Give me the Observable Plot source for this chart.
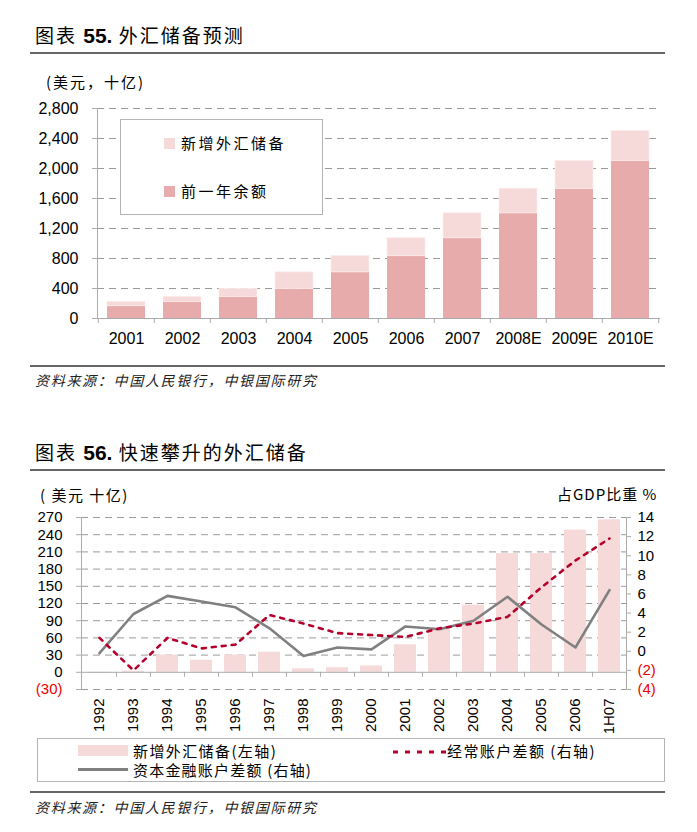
<!DOCTYPE html>
<html><head><meta charset="utf-8">
<script src="https://cdn.jsdelivr.net/npm/d3@7"></script>
<script src="https://cdn.jsdelivr.net/npm/@observablehq/plot@0.6"></script>
<style>
body{margin:0;width:697px;height:832px;position:relative;background:#fff;overflow:hidden;color:#000;
 font-family:"Liberation Sans Narrow","Liberation Sans","Noto Sans CJK SC",sans-serif}
.abs{position:absolute;white-space:nowrap}
.cjk{font-family:"Noto Sans CJK SC",sans-serif}
.title{font-family:"Noto Sans CJK SC",sans-serif;font-size:19px;line-height:20px;letter-spacing:2px}
.title b{font-family:"Liberation Sans Narrow","Liberation Sans",sans-serif;font-weight:bold;font-size:21px;letter-spacing:0}
.rule{position:absolute;left:30px;width:635px;height:2px;background:#666}
.src{font-family:"Noto Sans CJK SC",sans-serif;font-style:italic;font-size:14px;line-height:14px;letter-spacing:1.7px;color:#222}
.svgbox{position:absolute;left:0}
.lg1{position:absolute;left:120px;top:119px;width:201px;height:94px;background:#fff;border:1px solid #b4b4b4}
.lgtxt{font-family:"Noto Sans CJK SC",sans-serif;font-size:15px;line-height:16px}
</style></head>
<body>
<script>
// ---------- Chart 55 data ----------
const years1 = ["2001","2002","2003","2004","2005","2006","2007","2008E","2009E","2010E"];
const prevBalance = [164, 221, 287, 394, 615, 831, 1070, 1402, 1729, 2101];
const totalReserve = [221, 287, 394, 615, 831, 1070, 1402, 1729, 2101, 2499];
const yTicks1 = [0, 400, 800, 1200, 1600, 2000, 2400, 2800];

// ---------- Chart 56 data ----------
const years2 = ["1992","1993","1994","1995","1996","1997","1998","1999","2000","2001","2002","2003","2004","2005","2006","1H07"];
const newReserves = [-2, 2, 30, 21, 30, 35, 6, 8, 11, 48, 77, 117, 207, 207, 248, 266];
const currentAccount = [1.4, -2.0, 1.4, 0.3, 0.7, 3.8, 2.9, 1.9, 1.7, 1.5, 2.4, 2.9, 3.6, 6.7, 9.5, 11.8];
const capitalAccount = [-0.2, 3.9, 5.8, 5.2, 4.6, 2.4, -0.5, 0.4, 0.2, 2.6, 2.3, 3.2, 5.7, 2.8, 0.4, 6.4];
const leftTicks = [-30, 0, 30, 60, 90, 120, 150, 180, 210, 240, 270];
const rightTicks = [-4, -2, 0, 2, 4, 6, 8, 10, 12, 14];
const leftDomain = [-30, 270];
const rightDomain = [-4, 14];

// ---------- page text ----------
const W = 697;
const NARROW = "Liberation Sans Narrow, Liberation Sans, sans-serif";
const GRAY = "#ababab";

function addDiv(html, cls, style) {
  const d = document.createElement("div");
  d.className = "abs " + (cls || "");
  d.style.cssText = style;
  d.innerHTML = html;
  document.body.appendChild(d);
  return d;
}

addDiv('图表 <b>55.</b> 外汇储备预测', "title", "left:35px;top:25px");
addDiv('', "rule", "top:52px");
addDiv('(美元，十亿)', "cjk", "left:46px;top:74px;font-size:15px;line-height:16px;letter-spacing:2px");

// ---------- Chart 55 ----------
const m1 = {top: 18, right: 37, bottom: 32, left: 97};
const step1 = (W - m1.left - m1.right) / years1.length;
const data1 = years1.map((y, i) => ({year: y, prev: prevBalance[i], total: totalReserve[i]}));
const px1 = 2800 / (260 - m1.top - m1.bottom); // data units per pixel

const chart1 = Plot.plot({
  width: W, height: 260,
  marginTop: m1.top, marginRight: m1.right, marginBottom: m1.bottom, marginLeft: m1.left,
  style: {fontFamily: NARROW, fontSize: "16px", color: "#000", background: "transparent"},
  x: {type: "band", domain: years1, paddingInner: 0.32, paddingOuter: 0.16, axis: null, label: null},
  y: {domain: [0, 2800], axis: null, label: null},
  marks: [
    Plot.gridY(yTicks1.filter(t => t > 0), {stroke: "#9a9a9a", strokeOpacity: 1, strokeDasharray: "7,5"}),
    Plot.barY(data1, {x: "year", y1: 0, y2: "prev", fill: "#e8abab"}),
    Plot.barY(data1, {x: "year", y1: "prev", y2: "total", fill: "#f6dada", stroke: "#fbeaea", strokeWidth: 0.8}),
    Plot.ruleY([0], {stroke: GRAY}),
    Plot.frame({anchor: "left", stroke: GRAY}),
    Plot.axisY(yTicks1, {anchor: "left", label: null, tickSize: 5, tickPadding: 14, stroke: GRAY, tickFormat: d3.format(","), fontSize: 16}),
    Plot.axisX(years1, {anchor: "bottom", label: null, tickSize: 0, tickPadding: 14, fontSize: 16}),
    Plot.ruleX(years1, {x: d => d, y1: 0, y2: -5 * px1, dx: -step1 / 2, stroke: GRAY}),
    Plot.ruleX(years1.slice(-1), {x: d => d, y1: 0, y2: -5 * px1, dx: step1 / 2, stroke: GRAY})
  ]
});
const box1 = document.createElement("div");
box1.className = "svgbox"; box1.style.top = "90px";
box1.appendChild(chart1);
document.body.appendChild(box1);

// legend 55
addDiv('', "lg1", "");
addDiv('', "", "left:164px;top:138px;width:11px;height:11px;background:#f6dada");
addDiv('新增外汇储备', "lgtxt", "left:181px;top:135px;letter-spacing:2.5px");
addDiv('', "", "left:164px;top:186px;width:11px;height:11px;background:#e8abab");
addDiv('前一年余额', "lgtxt", "left:181px;top:183px;letter-spacing:2.5px");

addDiv('', "rule", "top:365px");
addDiv('资料来源：中国人民银行，中银国际研究', "src", "left:35px;top:373px");

// ---------- Chart 56 ----------
addDiv('图表 <b>56.</b> 快速攀升的外汇储备', "title", "left:35px;top:442px");
addDiv('', "rule", "top:469px");
addDiv('( 美元 十亿)', "cjk", "left:40px;top:487px;font-size:15px;line-height:16px;letter-spacing:1.5px");
addDiv('占GDP比重 %', "cjk", "left:557px;top:486px;font-size:15px;line-height:16px;letter-spacing:1px");

const m2 = {top: 17, right: 71, bottom: 46, left: 81};
const H2 = 235;
const step2 = (W - m2.left - m2.right) / years2.length;
const px2 = (leftDomain[1] - leftDomain[0]) / (H2 - m2.top - m2.bottom);
const toLeft = v => leftDomain[0] + (v - rightDomain[0]) * (leftDomain[1] - leftDomain[0]) / (rightDomain[1] - rightDomain[0]);
const fromLeft = y => rightDomain[0] + (y - leftDomain[0]) * (rightDomain[1] - rightDomain[0]) / (leftDomain[1] - leftDomain[0]);
const paren = v => v < 0 ? `(${-v})` : `${v}`;
const data2 = years2.map((y, i) => ({year: y, res: newReserves[i], ca: currentAccount[i], cap: capitalAccount[i]}));

const chart2 = Plot.plot({
  width: W, height: H2,
  marginTop: m2.top, marginRight: m2.right, marginBottom: m2.bottom, marginLeft: m2.left,
  style: {fontFamily: NARROW, fontSize: "15px", color: "#000", background: "transparent"},
  x: {type: "band", domain: years2, paddingInner: 0.36, paddingOuter: 0.18, axis: null, label: null},
  y: {domain: leftDomain, axis: null, label: null},
  marks: [
    Plot.gridY(leftTicks.filter(t => t !== 0), {stroke: "#9a9a9a", strokeOpacity: 1, strokeDasharray: "7,5"}),
    Plot.barY(data2, {x: "year", y1: 0, y2: "res", fill: "#f6d9d9"}),
    Plot.ruleY([0], {stroke: GRAY}),
    Plot.frame({anchor: "left", stroke: GRAY}),
    Plot.frame({anchor: "right", stroke: GRAY}),
    Plot.line(data2, {x: "year", y: d => toLeft(d.cap), stroke: "#808080", strokeWidth: 2.6}),
    Plot.line(data2, {x: "year", y: d => toLeft(d.ca), stroke: "#b5002c", strokeWidth: 2.6, strokeDasharray: "4,6"}),
    Plot.axisY(leftTicks.filter(t => t >= 0), {anchor: "left", label: null, tickSize: 5, tickPadding: 14, stroke: GRAY, tickFormat: paren, fontSize: 15}),
    Plot.axisY(leftTicks.filter(t => t < 0), {anchor: "left", label: null, tickSize: 5, tickPadding: 14, stroke: GRAY, fill: "#ee0000", tickFormat: paren, fontSize: 15}),
    Plot.axisY(rightTicks.filter(v => v >= 0).map(toLeft), {anchor: "right", label: null, tickSize: 4, tickPadding: 7, stroke: GRAY, tickFormat: d => paren(Math.round(fromLeft(d))), fontSize: 15}),
    Plot.axisY(rightTicks.filter(v => v < 0).map(toLeft), {anchor: "right", label: null, tickSize: 4, tickPadding: 7, stroke: GRAY, fill: "#ee0000", tickFormat: d => paren(Math.round(fromLeft(d))), fontSize: 15}),
    Plot.axisX(years2, {anchor: "bottom", label: null, tickSize: 0, tickPadding: 9, tickRotate: -90, fontSize: 15}),
    Plot.ruleX(years2.slice(1), {x: d => d, y1: 0, y2: -5 * px2, dx: -step2 / 2, stroke: GRAY})
  ]
});
const box2 = document.createElement("div");
box2.className = "svgbox"; box2.style.top = "500px";
box2.appendChild(chart2);
document.body.appendChild(box2);

// legend 56
addDiv('', "", "left:37px;top:738px;width:626px;height:42px;border:1px solid #b4b4b4;background:#fff");
addDiv('', "", "left:78px;top:745px;width:50px;height:11px;background:#f6d9d9");
addDiv('新增外汇储备(左轴)', "lgtxt", "left:133px;top:743px;letter-spacing:1.4px");
addDiv('', "", "left:78px;top:768px;width:50px;height:3px;background:#808080");
addDiv('资本金融账户差额 (右轴)', "lgtxt", "left:133px;top:762px;letter-spacing:1.2px");
addDiv('<svg width="54" height="6"><line x1="1" y1="3" x2="54" y2="3" stroke="#b5002c" stroke-width="3" stroke-dasharray="5,7"/></svg>', "", "left:392px;top:749px;line-height:0");
addDiv('经常账户差额 (右轴)', "lgtxt", "left:447px;top:743px;letter-spacing:1.4px");

addDiv('', "rule", "top:791px");
addDiv('资料来源：中国人民银行，中银国际研究', "src", "left:35px;top:800px");
</script>
</body></html>
